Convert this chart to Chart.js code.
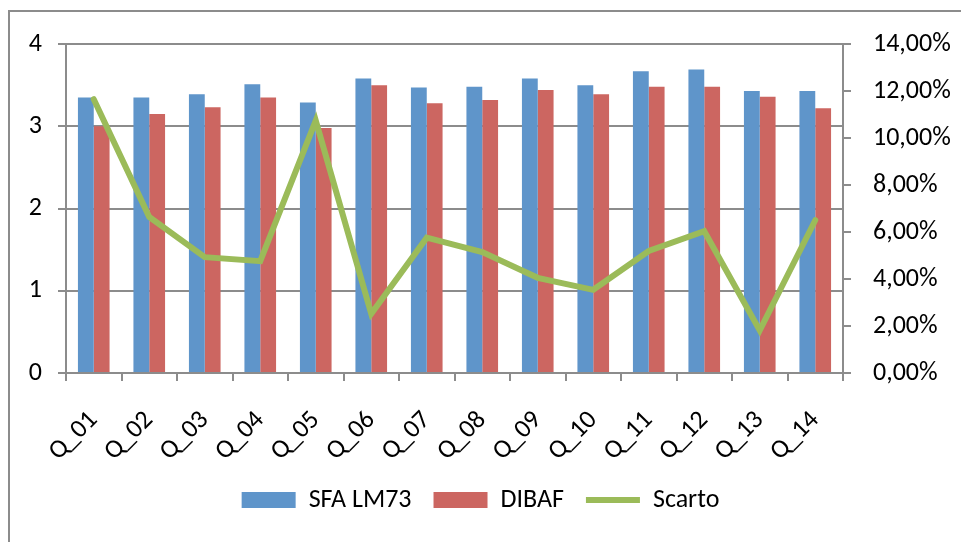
<!DOCTYPE html>
<html>
<head>
<meta charset="utf-8">
<script src="https://cdn.jsdelivr.net/npm/chart.js@4/dist/chart.umd.min.js"></script>
<style>
    body { margin: 0; background: #fff; }
    #wrap { position: relative; width: 961px; height: 542px; overflow: hidden; }
    #chart { position: absolute; left: 0; top: 0; }
    #frame { position: absolute; left: 8px; top: 10px; width: 1000px; height: 600px;
             border: 2px solid #8c8c8c; pointer-events: none; }
</style>
</head>
<body>
<div id="wrap">
    <canvas id="chart" width="961" height="542"></canvas>
    <div id="frame"></div>
</div>
<script>
// Chart data
const categories = ['Q_01', 'Q_02', 'Q_03', 'Q_04', 'Q_05', 'Q_06', 'Q_07',
    'Q_08', 'Q_09', 'Q_10', 'Q_11', 'Q_12', 'Q_13', 'Q_14'];
const sfaValues = [3.35, 3.35, 3.39, 3.51, 3.29, 3.58, 3.47, 3.48, 3.58, 3.50, 3.67, 3.69, 3.43, 3.43];
const dibafValues = [3.00, 3.15, 3.23, 3.35, 2.98, 3.50, 3.28, 3.32, 3.44, 3.39, 3.48, 3.48, 3.36, 3.22];
const scartoValues = [11.65, 6.64, 4.93, 4.76, 10.74, 2.52, 5.76, 5.15, 4.05, 3.54, 5.19, 6.03, 1.81, 6.50];
const leftTicks = [0, 1, 2, 3, 4];
const rightTicks = [0, 2, 4, 6, 8, 10, 12, 14];

const FONT = { family: 'Carlito, Lato, "Open Sans", sans-serif', size: 26 };
const GRID = '#8c8c8c';

const ctx = document.getElementById('chart');

new Chart(ctx, {
    type: 'bar',
    data: {
        labels: categories,
        datasets: [
            {
                label: 'SFA LM73',
                data: sfaValues,
                backgroundColor: '#5f95ca',
                yAxisID: 'y',
                order: 1,
                pointStyle: 'rect'
            },
            {
                label: 'DIBAF',
                data: dibafValues,
                backgroundColor: '#cc6661',
                yAxisID: 'y',
                order: 1,
                pointStyle: 'rect'
            },
            {
                type: 'line',
                label: 'Scarto',
                data: scartoValues,
                borderColor: '#9bbb59',
                backgroundColor: '#9bbb59',
                borderWidth: 6,
                borderCapStyle: 'round',
                pointRadius: 0,
                tension: 0,
                yAxisID: 'y2',
                order: 0,
                pointStyle: 'line'
            }
        ]
    },
    options: {
        responsive: false,
        animation: false,
        barPercentage: 1,
        categoryPercentage: 0.57,
        layout: {
            padding: { left: 0, right: 0, top: 44, bottom: 19 }
        },
        plugins: {
            tooltip: { enabled: false },
            legend: {
                position: 'bottom',
                labels: {
                    font: FONT,
                    color: '#000',
                    usePointStyle: true,
                    pointStyleWidth: 54,
                    boxHeight: 16,
                    padding: 22,
                    sort: (a, b) => a.datasetIndex - b.datasetIndex
                }
            }
        },
        scales: {
            x: {
                grid: {
                    drawOnChartArea: false,
                    drawTicks: true,
                    tickLength: 8,
                    color: GRID,
                    lineWidth: 2
                },
                border: { display: true, color: GRID, width: 2 },
                ticks: {
                    font: FONT,
                    color: '#000',
                    minRotation: 45,
                    maxRotation: 45,
                    autoSkip: false,
                    padding: 24
                },
                afterFit: (scale) => { scale.height = 92; }
            },
            y: {
                position: 'left',
                min: 0,
                max: 4,
                afterBuildTicks: (scale) => { scale.ticks = leftTicks.map(v => ({ value: v })); },
                grid: {
                    color: GRID,
                    lineWidth: 2,
                    tickLength: 8
                },
                border: { display: true, color: GRID, width: 2 },
                ticks: {
                    font: FONT,
                    color: '#000',
                    padding: 16
                },
                afterFit: (scale) => { scale.width = 66; }
            },
            y2: {
                position: 'right',
                min: 0,
                max: 14,
                afterBuildTicks: (scale) => { scale.ticks = rightTicks.map(v => ({ value: v })); },
                grid: {
                    drawOnChartArea: false,
                    color: GRID,
                    lineWidth: 2,
                    tickLength: 8
                },
                border: { display: true, color: GRID, width: 2 },
                ticks: {
                    font: FONT,
                    color: '#000',
                    padding: 22,
                    callback: (value) => value.toFixed(2).replace('.', ',') + '%'
                },
                afterFit: (scale) => { scale.width = 118; }
            }
        }
    }
});
</script>
</body>
</html>
